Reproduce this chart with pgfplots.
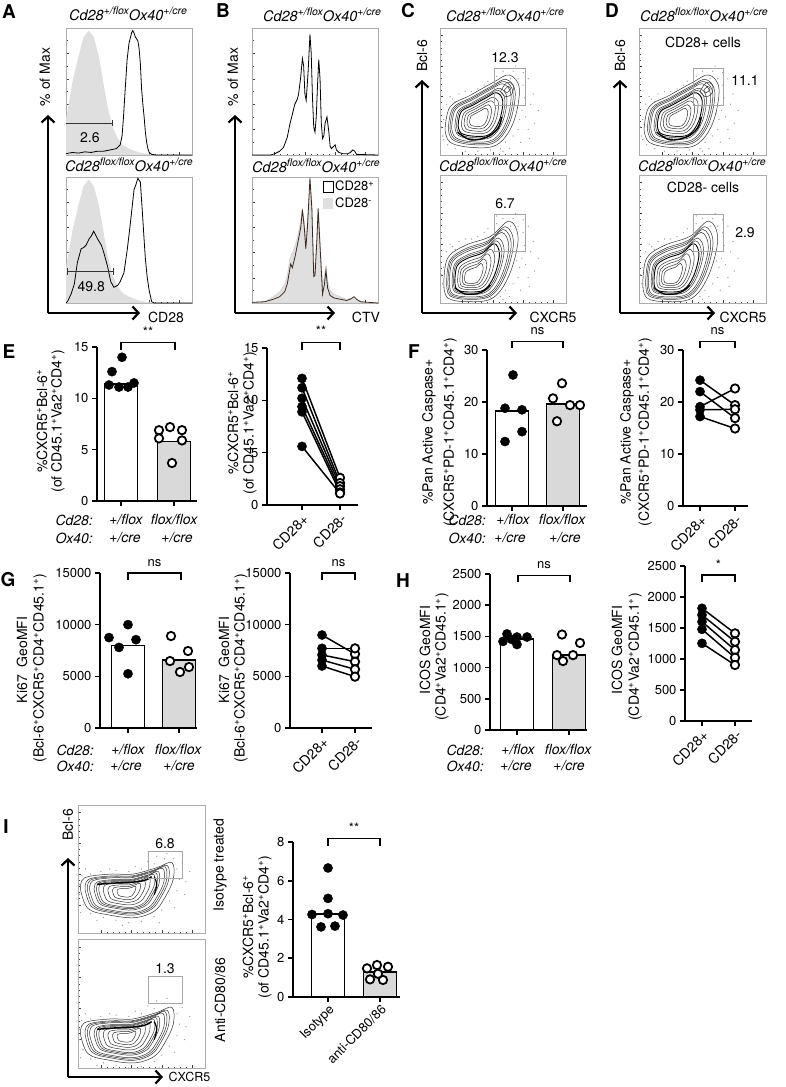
\documentclass[border=0pt]{standalone}
\usepackage{pgfplots}
\pgfplotsset{compat=1.18}
\usepackage{fontspec}
\setmainfont{TeX Gyre Heros}
\usetikzlibrary{arrows.meta}
\newcommand\fsz[1]{\fontsize{#1}{#1}\selectfont}
\newcommand\sps{\textsuperscript{+}}
\newcommand\supit[1]{\raisebox{0.42em}{\fsz{10.5}\itshape #1}}
\newcommand\geno[1]{\textit{Cd28}\supit{#1}\textit{Ox40}\supit{+/cre}}

\tikzset{brk/.style={line width=1.2pt}, sig/.style={font=\fsz{13}}}
\pgfplotsset{
  flow/.style={scale only axis, xmin=0,xmax=100,ymin=0,ymax=100,
    axis line style={gray!65, line width=0.7pt},
    xtick={18,42,66,90}, ytick={22,46,70,94}, minor tick num=4,
    xticklabels={}, yticklabels={}, xtick pos=left, ytick pos=left,
    tick align=inside, major tick length=3pt, minor tick length=1.5pt,
    tick style={gray!50!black, line width=0.5pt}},
  hist/.style={flow, ytick={0,20,40,60,80,100}, minor y tick num=1},
  prism/.style={scale only axis, xmin=0, ymin=0,
    axis x line*=bottom, axis y line*=left,
    axis line style={line width=1.6pt},
    x axis line style={-}, y axis line style={-},
    tick style={line width=1.6pt, black}, major tick length=5pt,
    tick align=outside, clip=false,
    tick label style={font=\fsz{13}},
    /pgf/number format/assume math mode=true,
    /pgf/number format/1000 sep={},
    scaled y ticks=false, xticklabels={}},
  paired/.style={prism, xticklabels={CD28+,CD28-},
    xticklabel style={rotate=45, anchor=north east, font=\fsz{14}, inner sep=2pt}},
  bar/.style={ybar, bar width=33pt, bar shift=0pt, draw=black, line width=1.6pt},
  fpt/.style={only marks, mark=*, mark size=4.6pt, mark options={fill=black, draw=black, line width=0.4pt}},
  opt/.style={only marks, mark=*, mark size=4.2pt, mark options={fill=white, draw=black, line width=1.8pt}},
  pair/.style={black, line width=1.5pt, no marks},
  cnt/.style={smooth, tension=0.6, black!80, line width=0.5pt, no marks},
  dots/.style={only marks, mark=*, mark size=0.35pt, gray!80}
}

\newcommand\dotsA{
\addplot[dots] coordinates {(2,15)(3,28)(5,40)(10,44)(15,48)(20,50)(30,52)(38,58)(45,62)(50,66)(58,66)(62,60)(66,55)(67,45)(65,35)(63,28)(62,20)(58,15)(52,10)(48,5)(40,4)(30,3)(20,3)(12,5)(6,8)(3,12)(68,30)(70,20)(72,40)(60,70)(35,55)(25,50)(12,42)(64,10)(75,25)(55,5)(70,60)(45,68)(78,35)(66,65)(71,13)(58,40)(61,33)(56,60)(1,22)(8,46)(74,48)(50,3)};
}
\newcommand\contTop{
\dotsA
\addplot[cnt] coordinates {(4,20)(8,38)(24,47)(42,57)(55,63)(63,52)(58,25)(45,8)(25,6)(8,10)(4,20)};
\addplot[cnt] coordinates {(6.6,20.8)(10.2,37)(24.6,45.1)(40.8,54.1)(52.5,59.5)(59.7,49.6)(55.2,25.3)(43.5,10)(25.5,8.2)(10.2,11.8)(6.6,20.8)};
\addplot[cnt] coordinates {(7.9,21.2)(11.3,36.5)(24.9,44.2)(40.2,52.7)(51.3,57.8)(58.1,48.4)(53.8,25.4)(42.8,11)(25.7,9.3)(11.3,12.7)(7.9,21.2)};
\addplot[cnt] coordinates {(9.2,21.6)(12.4,36)(25.2,43.2)(39.6,51.2)(50,56)(56.4,47.2)(52.4,25.6)(42,12)(26,10.4)(12.4,13.6)(9.2,21.6)};
\addplot[cnt] coordinates {(11.8,22.4)(14.6,35)(25.8,41.3)(38.4,48.3)(47.5,52.5)(53.1,44.8)(49.6,25.9)(40.5,14)(26.5,12.6)(14.6,15.4)(11.8,22.4)};
\addplot[cnt] coordinates {(13.1,22.8)(15.7,34.5)(26.1,40.4)(37.8,46.9)(46.3,50.8)(51.5,43.6)(48.2,26)(39.8,15)(26.7,13.7)(15.7,16.3)(13.1,22.8)};
\addplot[cnt, line width=0.9pt, black] coordinates {(14.4,23.2)(16.8,34)(26.4,39.4)(37.2,45.4)(45,49)(49.8,42.4)(46.8,26.2)(39,16)(27,14.8)(16.8,17.2)(14.4,23.2)};
\addplot[cnt] coordinates {(17,24)(19,33)(27,37.5)(36,42.5)(42.5,45.5)(46.5,40)(44,26.5)(37.5,18)(27.5,17)(19,19)(17,24)};
\addplot[cnt] coordinates {(19.1,24.6)(20.8,32.2)(27.5,36)(35,40.2)(40.5,42.7)(43.9,38.1)(41.8,26.7)(36.3,19.6)(27.9,18.8)(20.8,20.4)(19.1,24.6)};
\addplot[cnt] coordinates {(21.4,25.4)(22.7,31.3)(28,34.3)(34,37.6)(38.3,39.6)(40.9,35.9)(39.2,27)(35,21.4)(28.3,20.7)(22.7,22.1)(21.4,25.4)};
\addplot[cnt] coordinates {(23.5,26)(24.5,30.5)(28.5,32.8)(33,35.3)(36.3,36.8)(38.3,34)(37,27.3)(33.8,23)(28.8,22.5)(24.5,23.5)(23.5,26)};
\addplot[cnt] coordinates {(48,50)(53,57)(58,55)(57,48)(52,46)(48,50)};
\addplot[cnt] coordinates {(51,51)(54,54)(56,52)(53,49)(51,51)};
\addplot[cnt, line width=1.4pt, black] coordinates {(14,18)(24,12)(37,14)(46,21)(49,30)};
}
\newcommand\contBot{
\dotsA
\addplot[cnt] coordinates {(3,15)(6,35)(20,45)(40,52)(55,64)(62,50)(55,22)(42,4)(22,1)(6,4)(3,15)};
\addplot[cnt] coordinates {(5.2,15.5)(7.9,33.5)(20.5,42.5)(38.5,48.8)(52,59.6)(58.3,47)(52,21.8)(40.3,5.6)(22.3,2.9)(7.9,5.6)(5.2,15.5)};
\addplot[cnt] coordinates {(6.3,15.7)(8.8,32.8)(20.7,41.3)(37.8,47.2)(50.5,57.4)(56.5,45.5)(50.5,21.7)(39.5,6.4)(22.4,3.8)(8.8,6.4)(6.3,15.7)};
\addplot[cnt] coordinates {(7.4,16)(9.8,32)(21,40)(37,45.6)(49,55.2)(54.6,44)(49,21.6)(38.6,7.2)(22.6,4.8)(9.8,7.2)(7.4,16)};
\addplot[cnt] coordinates {(9.6,16.5)(11.7,30.5)(21.5,37.5)(35.5,42.4)(46,50.8)(50.9,41)(46,21.4)(36.9,8.8)(22.9,6.7)(11.7,8.8)(9.6,16.5)};
\addplot[cnt] coordinates {(10.7,16.7)(12.6,29.8)(21.7,36.3)(34.8,40.8)(44.5,48.6)(49.1,39.5)(44.5,21.3)(36.1,9.6)(23,7.6)(12.6,9.6)(10.7,16.7)};
\addplot[cnt, line width=0.9pt, black] coordinates {(11.8,17)(13.6,29)(22,35)(34,39.2)(43,46.4)(47.2,38)(43,21.2)(35.2,10.4)(23.2,8.6)(13.6,10.4)(11.8,17)};
\addplot[cnt] coordinates {(14,17.5)(15.5,27.5)(22.5,32.5)(32.5,36)(40,42)(43.5,35)(40,21)(33.5,12)(23.5,10.5)(15.5,12)(14,17.5)};
\addplot[cnt] coordinates {(15.8,17.9)(17,26.3)(22.9,30.5)(31.3,33.4)(37.6,38.5)(40.5,32.6)(37.6,20.8)(32.1,13.3)(23.7,12)(17,13.3)(15.8,17.9)};
\addplot[cnt] coordinates {(17.7,18.3)(18.7,25)(23.3,28.3)(30,30.6)(34.9,34.5)(37.2,29.9)(34.9,20.7)(30.6,14.7)(24,13.7)(18.7,14.7)(17.7,18.3)};
\addplot[cnt] coordinates {(19.5,18.8)(20.3,23.8)(23.8,26.3)(28.8,28)(32.5,31)(34.3,27.5)(32.5,20.5)(29.3,16)(24.3,15.3)(20.3,16)(19.5,18.8)};
\addplot[cnt, line width=1.2pt, black] coordinates {(12,12)(20,7)(32,8)(40,14)};
}
\newcommand\contI{
\addplot[dots] coordinates {(1,30)(3,45)(10,46)(18,48)(30,49)(40,48)(50,50)(60,54)(68,58)(75,58)(78,50)(80,42)(78,33)(72,25)(66,18)(60,13)(50,9)(40,8)(30,10)(20,12)(10,15)(4,22)(1,38)(85,40)(82,55)(70,62)(62,60)(55,56)(35,6)(15,10)(76,20)(84,30)(45,52)(25,50)(6,50)(88,48)(64,8)(2,16)};
\addplot[cnt] coordinates {(2,34)(5,43)(25,46)(43,46)(62,51)(74,55)(75,42)(68,27)(60,17)(45,12)(25,14)(8,19)(2,34)};
\addplot[cnt] coordinates {(5.6,33.8)(8.3,41.9)(26.3,44.6)(42.5,44.6)(59.6,49.1)(70.4,52.7)(71.3,41)(65,27.5)(57.8,18.5)(44.3,14)(26.3,15.8)(11,20.3)(5.6,33.8)};
\addplot[cnt] coordinates {(7.4,33.7)(9.9,41.4)(26.9,43.9)(42.3,43.9)(58.4,48.2)(68.6,51.6)(69.5,40.5)(63.5,27.7)(56.7,19.2)(44,15)(26.9,16.7)(12.5,20.9)(7.4,33.7)};
\addplot[cnt] coordinates {(9.2,33.6)(11.6,40.8)(27.6,43.2)(42,43.2)(57.2,47.2)(66.8,50.4)(67.6,40)(62,28)(55.6,20)(43.6,16)(27.6,17.6)(14,21.6)(9.2,33.6)};
\addplot[cnt] coordinates {(12.8,33.4)(14.9,39.7)(28.9,41.8)(41.5,41.8)(54.8,45.3)(63.2,48.1)(63.9,39)(59,28.5)(53.4,21.5)(42.9,18)(28.9,19.4)(17,22.9)(12.8,33.4)};
\addplot[cnt] coordinates {(14.6,33.3)(16.5,39.2)(29.5,41.1)(41.3,41.1)(53.6,44.4)(61.4,47)(62.1,38.5)(57.5,28.7)(52.3,22.2)(42.6,19)(29.5,20.3)(18.5,23.5)(14.6,33.3)};
\addplot[cnt] coordinates {(16.4,33.2)(18.2,38.6)(30.2,40.4)(41,40.4)(52.4,43.4)(59.6,45.8)(60.2,38)(56,29)(51.2,23)(42.2,20)(30.2,21.2)(20,24.2)(16.4,33.2)};
\addplot[cnt] coordinates {(20,33)(21.5,37.5)(31.5,39)(40.5,39)(50,41.5)(56,43.5)(56.5,37)(53,29.5)(49,24.5)(41.5,22)(31.5,23)(23,25.5)(20,33)};
\addplot[cnt] coordinates {(23.6,32.8)(24.8,36.4)(32.8,37.6)(40,37.6)(47.6,39.6)(52.4,41.2)(52.8,36)(50,30)(46.8,26)(40.8,24)(32.8,24.8)(26,26.8)(23.6,32.8)};
\addplot[cnt] coordinates {(27.2,32.6)(28.1,35.3)(34.1,36.2)(39.5,36.2)(45.2,37.7)(48.8,38.9)(49.1,35)(47,30.5)(44.6,27.5)(40.1,26)(34.1,26.6)(29,28.1)(27.2,32.6)};
\addplot[cnt] coordinates {(30.8,32.4)(31.4,34.2)(35.4,34.8)(39,34.8)(42.8,35.8)(45.2,36.6)(45.4,34)(44,31)(42.4,29)(39.4,28)(35.4,28.4)(32,29.4)(30.8,32.4)};
\addplot[cnt, line width=1.5pt, black] coordinates {(15,38)(28,39)(40,39.5)(52,41)(58,44)};
\addplot[cnt, line width=1.2pt, black] coordinates {(60,44)(62,38)(60,30)};
}

\begin{document}
\begin{tikzpicture}
\useasboundingbox (0,0) rectangle (786pt,-1087pt);

% ---------- A ----------
\begin{axis}[hist, at={(66pt,-155pt)}, anchor=south west, width=126pt, height=127pt]
\addplot[fill=gray!25, draw=none] coordinates {(0,28)(5,57)(10,78)(14,93)(18,98)(22,93)(26,78)(30,55)(33,38)(37,22)(41,13)(45,8)(50,5)(58,2)(66,0.5)(75,0)} \closedcycle;
\addplot[black, line width=0.8pt] coordinates {(0,1)(5,2)(10,1.5)(15,2.5)(20,2)(25,3)(30,3)(35,4)(40,5)(43,8)(44.5,15)(45.5,28)(47,52)(48.5,75)(50,88)(52,96)(53,98)(54,96)(55,93)(57,90)(58,84)(59,72)(60,52)(61,40)(62,30)(63,18)(64,10)(65,5)(66,2)(68,0.5)(72,0)(100,0)};
\draw[gray!40!black, line width=0.8pt] (axis cs:0,25) -- (axis cs:37,25) (axis cs:37,22.5) -- (axis cs:37,27.5);
\node[font=\fsz{14}] at (axis cs:19,14) {2.6};
\end{axis}
\begin{axis}[hist, at={(66pt,-303pt)}, anchor=south west, width=126pt, height=126pt]
\addplot[fill=gray!25, draw=none] coordinates {(0,28)(5,57)(10,78)(14,93)(18,98)(22,93)(26,78)(30,55)(33,38)(37,22)(41,13)(45,8)(50,5)(58,2)(66,0.5)(75,0)} \closedcycle;
\addplot[black, line width=0.8pt] coordinates {(0,0)(1.3,1.4)(4,7)(6.6,15)(9,32)(12,43)(14,44)(16,46)(18.4,51)(20,53)(22,57)(23.5,54)(25,51)(28,46)(30,40)(33,29)(35.5,17)(38,12.5)(41,14)(43,17)(46,24)(48.7,43)(51,62.5)(54,90)(55.5,94)(57,99)(59,96)(60.5,74)(62,50)(63,35)(64.5,20)(66,10)(68,1)(70,0)(100,0)};
\draw[gray!40!black, line width=0.8pt] (axis cs:1,25) -- (axis cs:38,25) (axis cs:1,22.5) -- (axis cs:1,27.5) (axis cs:38,22.5) -- (axis cs:38,27.5);
\node[font=\fsz{14}] at (axis cs:20,13) {49.8};
\end{axis}

% ---------- B ----------
\begin{axis}[hist, at={(252pt,-155pt)}, anchor=south west, width=126pt, height=127pt]
\addplot[black, line width=0.8pt] coordinates {(0,0)(15,0)(18,1)(22,3)(25,6)(28,14)(30,24)(32,32)(34,40)(36,44)(37,48)(38.5,60)(40,76)(41,70)(42,48)(43,43)(44.5,65)(46,95)(47,80)(48,45)(49,22)(50,18)(51,30)(52,55)(53,75)(54,60)(55,25)(56,13)(57,15)(58,25)(59.5,30)(61,18)(62,7)(63,5)(64,6)(66,8)(67,4)(69,2)(72,1)(76,1)(78,2)(80,4)(81.5,3)(83,0.5)(100,0)};
\end{axis}
\begin{axis}[hist, at={(252pt,-303pt)}, anchor=south west, width=126pt, height=126pt]
\addplot[fill=gray!25, draw=gray!40, line width=0.4pt] coordinates {(0,0)(10,1)(17,5)(22,9)(26,15)(28,22)(30,35)(32,40)(34,45)(36,52)(38,62)(40,75)(41.5,65)(42.7,50)(44,65)(46,97)(47.5,80)(49,30)(50,30)(51.5,55)(52.5,74)(54,50)(56,15)(57.5,22)(58.7,30)(60,18)(62,10)(65,7)(70,5)(75,3)(80,4)(85,2)(90,0)(100,0)} \closedcycle;
\addplot[color={rgb,255:red,60;green,40;blue,30}, line width=0.8pt] coordinates {(0,0.5)(10,1)(17,3)(22,5)(26,9)(28,15)(30.7,31)(32,28)(34,36)(36,46)(38.7,60)(40,74)(41.5,60)(42.7,43)(44,60)(46,99)(47.5,75)(49,21)(50,22)(51.5,50)(52.5,75)(54,45)(56,7)(57.5,15)(58.7,26)(60,12)(62,6)(65,4)(70,3)(75,2)(78,3)(81,5)(83,3)(86,1)(100,0)};
\end{axis}

% ---------- C ----------
\begin{axis}[flow, at={(440pt,-155pt)}, anchor=south west, width=126pt, height=127pt]
\contTop
\draw[gray!70, line width=0.6pt] (axis cs:43,39.5) rectangle (axis cs:67.5,68.5);
\node[font=\fsz{14}] at (axis cs:51.6,77) {12.3};
\end{axis}
\begin{axis}[flow, at={(440pt,-303pt)}, anchor=south west, width=126pt, height=128pt]
\contBot
\draw[gray!70, line width=0.6pt] (axis cs:43,40.6) rectangle (axis cs:67.5,69.5);
\node[font=\fsz{14}] at (axis cs:51.6,78) {6.7};
\end{axis}

% ---------- D ----------
\begin{axis}[flow, at={(639pt,-155pt)}, anchor=south west, width=127pt, height=127pt]
\contTop
\draw[gray!70, line width=0.6pt] (axis cs:42.5,39.5) rectangle (axis cs:66,68.5);
\node[font=\fsz{14}] at (axis cs:83.5,59) {11.1};
\node[font=\fsz{14}] at (axis cs:50.4,89) {CD28+ cells};
\end{axis}
\begin{axis}[flow, at={(639pt,-303pt)}, anchor=south west, width=127pt, height=128pt]
\contBot
\draw[gray!70, line width=0.6pt] (axis cs:42.5,40.6) rectangle (axis cs:66,69.5);
\node[font=\fsz{14}] at (axis cs:83.5,54.7) {2.9};
\node[font=\fsz{14}] at (axis cs:50.4,90.6) {CD28- cells};
\end{axis}

% ---------- E ----------
\begin{axis}[prism, at={(97pt,-501pt)}, anchor=south west, width=100pt, height=154pt, xmax=100, ymax=15, ytick={0,5,10,15}, xtick={24,77}]
\addplot[bar, fill=white] coordinates {(24,11.4)};
\addplot[bar, fill=gray!30] coordinates {(77,5.8)};
\addplot[fpt] coordinates {(25,14.0)(15,12.6)(12,11.3)(22,11.1)(31,11.1)(37,11.5)};
\addplot[opt] coordinates {(62,6.9)(73,7.2)(85,6.9)(62,6.1)(85,5.9)(75,3.7)};
\draw[brk] (axis cs:24,14.7) |- (axis cs:78,15.4) -- (axis cs:78,14.7);
\node[sig] at (axis cs:51,16.5) {**};
\end{axis}
\begin{axis}[paired, at={(267pt,-505pt)}, anchor=south west, width=91pt, height=157pt, xmax=91, ymax=15, ytick={0,5,10,15}, xtick={35,73}]
\addplot[pair] coordinates {(35,12.1)(73,2.6)};
\addplot[pair] coordinates {(35,11.2)(73,2.1)};
\addplot[pair] coordinates {(35,10.2)(73,1.8)};
\addplot[pair] coordinates {(35,9.4)(73,1.5)};
\addplot[pair] coordinates {(35,8.9)(73,1.2)};
\addplot[pair] coordinates {(35,5.6)(73,1.1)};
\addplot[fpt] coordinates {(35,12.1)(35,11.2)(35,10.2)(35,9.4)(35,8.9)(35,5.6)};
\addplot[opt] coordinates {(73,2.6)(73,2.1)(73,1.8)(73,1.5)(73,1.2)(73,1.1)};
\draw[brk] (axis cs:35,14.8) |- (axis cs:73,15.5) -- (axis cs:73,14.8);
\node[sig] at (axis cs:54,16.6) {**};
\end{axis}

% ---------- F ----------
\begin{axis}[prism, at={(487pt,-506pt)}, anchor=south west, width=100pt, height=156pt, xmax=100, ymax=30, ytick={0,10,20,30}, xtick={25,76}]
\addplot[bar, fill=white] coordinates {(25,18.3)};
\addplot[bar, fill=gray!30] coordinates {(76,19.6)};
\addplot[fpt] coordinates {(26,25.2)(18,18.8)(35,18.5)(35,14.3)(18,12.4)};
\addplot[opt] coordinates {(75,23.6)(66,20.7)(83,19.4)(93,19.4)(70,16.3)};
\draw[brk] (axis cs:25,30.4) |- (axis cs:76,31.6) -- (axis cs:76,30.4);
\node[sig] at (axis cs:50.5,33.6) {ns};
\end{axis}
\begin{axis}[paired, at={(683pt,-506pt)}, anchor=south west, width=65pt, height=156pt, xmax=65, ymax=30, ytick={0,10,20,30}, xtick={17,52}]
\addplot[pair] coordinates {(17,24.2)(52,19.4)};
\addplot[pair] coordinates {(17,22.0)(52,16.9)};
\addplot[pair] coordinates {(17,19.1)(52,22.6)};
\addplot[pair] coordinates {(17,18.5)(52,18.6)};
\addplot[pair] coordinates {(17,17.2)(52,14.9)};
\addplot[fpt] coordinates {(17,24.2)(17,22.0)(17,19.1)(17,18.5)(17,17.2)};
\addplot[opt] coordinates {(52,19.4)(52,16.9)(52,22.6)(52,18.6)(52,14.9)};
\draw[brk] (axis cs:17,30.4) |- (axis cs:52,31.6) -- (axis cs:52,30.4);
\node[sig] at (axis cs:34.5,33.6) {ns};
\end{axis}

% ---------- G ----------
\begin{axis}[prism, at={(100pt,-728pt)}, anchor=south west, width=97pt, height=155pt, xmax=97, ymax=15000, ytick={0,5000,10000,15000}, xtick={28,79}]
\addplot[bar, fill=white] coordinates {(28,8000)};
\addplot[bar, fill=gray!30] coordinates {(79,6600)};
\addplot[fpt] coordinates {(28,10000)(9,8750)(36,8550)(19,7800)(28,5250)};
\addplot[opt] coordinates {(71,8900)(88,7450)(70,6480)(89,5900)(80,5420)};
\draw[brk] (axis cs:28,14300) |- (axis cs:81,15000) -- (axis cs:81,14300);
\node[sig] at (axis cs:54.5,16000) {ns};
\end{axis}
\begin{axis}[paired, at={(290pt,-728pt)}, anchor=south west, width=82pt, height=155pt, xmax=82, ymax=15000, ytick={0,5000,10000,15000}, xtick={32,65}]
\addplot[pair] coordinates {(32,9000)(65,7160)};
\addplot[pair] coordinates {(32,7710)(65,7710)};
\addplot[pair] coordinates {(32,7070)(65,6420)};
\addplot[pair] coordinates {(32,6580)(65,5680)};
\addplot[pair] coordinates {(32,6000)(65,4970)};
\addplot[fpt] coordinates {(32,9000)(32,7710)(32,7070)(32,6580)(32,6000)};
\addplot[opt] coordinates {(65,7160)(65,7710)(65,6420)(65,5680)(65,4970)};
\draw[brk] (axis cs:32,14300) |- (axis cs:65,15000) -- (axis cs:65,14300);
\node[sig] at (axis cs:48.5,16000) {ns};
\end{axis}

% ---------- H ----------
\begin{axis}[prism, at={(490pt,-730pt)}, anchor=south west, width=97pt, height=156pt, xmax=97, ymax=2500, ytick={0,500,1000,1500,2000,2500}, xtick={27,79}]
\addplot[bar, fill=white] coordinates {(27,1455)};
\addplot[bar, fill=gray!30] coordinates {(79,1200)};
\addplot[fpt] coordinates {(17,1540)(27,1490)(37,1490)(13,1420)(27,1370)(22,1450)};
\addplot[opt] coordinates {(72,1530)(90,1395)(67,1200)(83,1200)(73,1105)};
\draw[brk] (axis cs:28,2370) |- (axis cs:80,2480) -- (axis cs:80,2370);
\node[sig] at (axis cs:54,2650) {ns};
\end{axis}
\begin{axis}[paired, at={(685pt,-721pt)}, anchor=south west, width=67pt, height=155pt, xmax=67, ymax=2500, ytick={0,500,1000,1500,2000,2500}, xtick={17,50}]
\addplot[pair] coordinates {(17,1818)(50,1414)};
\addplot[pair] coordinates {(17,1710)(50,1279)};
\addplot[pair] coordinates {(17,1602)(50,1145)};
\addplot[pair] coordinates {(17,1479)(50,1021)};
\addplot[pair] coordinates {(17,1253)(50,903)};
\addplot[fpt] coordinates {(17,1818)(17,1710)(17,1602)(17,1479)(17,1253)};
\addplot[opt] coordinates {(50,1414)(50,1279)(50,1145)(50,1021)(50,903)};
\draw[brk] (axis cs:17,2245) |- (axis cs:50,2355) -- (axis cs:50,2245);
\node[sig] at (axis cs:33.5,2520) {*};
\end{axis}

% ---------- I ----------
\begin{axis}[flow, at={(78pt,-933pt)}, anchor=south west, width=127pt, height=128pt]
\contI
\draw[gray!70, line width=0.6pt] (axis cs:55,43) rectangle (axis cs:82,64);
\node[font=\fsz{14}] at (axis cs:68.5,70) {6.8};
\end{axis}
\begin{axis}[flow, at={(78pt,-1068pt)}, anchor=south west, width=127pt, height=129pt, ymin=8, ymax=108, ytick={30,54,78,102}]
\contI
\draw[gray!70, line width=0.6pt] (axis cs:55,58) rectangle (axis cs:82,79);
\node[font=\fsz{14}] at (axis cs:68.5,85) {1.3};
\end{axis}
\begin{axis}[prism, at={(293pt,-997pt)}, anchor=south west, width=107pt, height=155pt, xmax=107, ymax=8, ytick={0,2,4,6,8}, xtick={35,87},
  xticklabels={Isotype,anti-CD80/86}, xticklabel style={rotate=45, anchor=north east, font=\fsz{13}, inner sep=1pt}]
\addplot[bar, fill=white] coordinates {(35,4.28)};
\addplot[bar, fill=gray!30] coordinates {(87,1.3)};
\addplot[fpt] coordinates {(35,6.66)(35,5.09)(19,4.26)(50,4.23)(35,4.3)(28,3.62)(42,3.66)};
\addplot[opt] coordinates {(74,1.48)(84,1.65)(95,1.56)(77,0.91)(90,0.88)(85,1.2)};
\draw[brk] (axis cs:35,7.8) |- (axis cs:87,8.2) -- (axis cs:87,7.8);
\node[sig] at (axis cs:61,8.75) {**};
\end{axis}

% ---------- annotations ----------
\begin{scope}[x=1pt, y=-1pt]
\tikzset{arr/.style={line width=2.2pt, -{Straight Barb[length=6pt,width=13pt,line width=2.2pt]}},
  lab/.style={font=\bfseries\fsz{19}}, tt/.style={font=\fsz{14.5}, inner sep=1pt}, rl/.style={rotate=90, font=\fsz{14}}}
% panel letters
\node[lab] at (9,12) {A};
\node[lab] at (223,11) {B};
\node[lab] at (408,11) {C};
\node[lab] at (612,11) {D};
\node[lab] at (9,352) {E};
\node[lab] at (414,352) {F};
\node[lab] at (8,580) {G};
\node[lab] at (403,581) {H};
\node[lab] at (6,827) {I};
% titles
\node[tt] at (128,14) {\geno{+/flox}};
\node[tt] at (129,165) {\geno{flox/flox}};
\node[tt] at (322,15) {\geno{+/flox}};
\node[tt] at (316,166) {\geno{flox/flox}};
\node[tt] at (505,15) {\geno{+/flox}};
\node[tt] at (503,165) {\geno{flox/flox}};
\node[tt] at (704,15) {\geno{flox/flox}};
\node[tt] at (702,165) {\geno{flox/flox}};
% arrows
\draw[arr] (48,313) -- (48,115);
\draw[arr] (48,313) -- (140,313);
\draw[arr] (235,313) -- (235,115);
\draw[arr] (235,313) -- (335,313);
\draw[arr] (422,313) -- (422,80);
\draw[arr] (422,313) -- (517,313);
\draw[arr] (620,313) -- (620,80);
\draw[arr] (620,313) -- (715,313);
\draw[arr] (68,1077) -- (68,858);
\draw[arr] (68,1077) -- (163,1077);
\node[rl] at (45,77) {\% of Max};
\node[rl] at (233,77) {\% of Max};
\node[rl] at (422,56) {Bcl-6};
\node[rl] at (620,56) {Bcl-6};
\node[rl] at (68,825) {Bcl-6};
\node[font=\fsz{14}] at (166,317) {CD28};
\node[font=\fsz{14}] at (366,317) {CTV};
\node[font=\fsz{14}] at (553,317) {CXCR5};
\node[font=\fsz{14}] at (743,317) {CXCR5};
\node[font=\fsz{12.5}, anchor=west] at (165,1077) {CXCR5};
\node[rl] at (220,865) {Isotype treated};
\node[rl] at (220,1000) {Anti-CD80/86};
% legend B
\draw[line width=1pt] (323,181) rectangle (333,192);
\fill[gray!25] (323,198) rectangle (333,209);
\node[font=\fsz{13}, anchor=west, inner sep=1pt] at (334,186) {CD28\textsuperscript{+}};
\node[font=\fsz{13}, anchor=west, inner sep=1pt] at (334,203) {CD28\textsuperscript{-}};
% y labels
\node[rl] at (42,421) {\%CXCR5\sps Bcl-6\sps};
\node[rl] at (58,421) {(of CD45.1\sps Va2\sps CD4\sps)};
\node[rl] at (233,423) {\%CXCR5\sps Bcl-6\sps};
\node[rl] at (250,423) {(of CD45.1\sps Va2\sps CD4\sps)};
\node[rl] at (429,432) {\%Pan Active Caspase+};
\node[rl] at (450,432) {(CXCR5\sps PD-1\sps CD45.1\sps CD4\sps)};
\node[rl] at (627,432) {\%Pan Active Caspase+};
\node[rl] at (645,432) {(CXCR5\sps PD-1\sps CD45.1\sps CD4\sps)};
\node[rl] at (22,660) {Ki67\ \ GeoMFI};
\node[rl] at (40,668) {(Bcl-6\sps CXCR5\sps CD4\sps CD45.1\sps)};
\node[rl] at (224,660) {Ki67\ \ GeoMFI};
\node[rl] at (241,668) {(Bcl-6\sps CXCR5\sps CD4\sps CD45.1\sps)};
\node[rl] at (425,650) {ICOS GeoMFI};
\node[rl] at (442,657) {(CD4\sps Va2\sps CD45.1\sps)};
\node[rl] at (617,650) {ICOS GeoMFI};
\node[rl] at (635,657) {(CD4\sps Va2\sps CD45.1\sps)};
\node[rl] at (248,927) {\%CXCR5\sps Bcl-6\sps};
\node[rl] at (265,927) {(of CD45.1\sps Va2\sps CD4\sps)};
% category labels
\tikzset{cat/.style={font=\itshape\fsz{14}}}
\node[cat, anchor=west] at (52,520) {Cd28:};
\node[cat, anchor=west] at (52,538) {Ox40:};
\node[cat] at (126,520) {+/flox};
\node[cat] at (125,538) {+/cre};
\node[cat] at (174,520) {flox/flox};
\node[cat] at (177,538) {+/cre};
\node[cat, anchor=west] at (445,520) {Cd28:};
\node[cat, anchor=west] at (445,538) {Ox40:};
\node[cat] at (513,520) {+/flox};
\node[cat] at (510,538) {+/cre};
\node[cat] at (562,520) {flox/flox};
\node[cat] at (565,538) {+/cre};
\node[cat, anchor=west] at (53,750) {Cd28:};
\node[cat, anchor=west] at (53,766) {Ox40:};
\node[cat] at (128,750) {+/flox};
\node[cat] at (126,766) {+/cre};
\node[cat] at (178,750) {flox/flox};
\node[cat] at (179,766) {+/cre};
\node[cat, anchor=west] at (443,750) {Cd28:};
\node[cat, anchor=west] at (443,766) {Ox40:};
\node[cat] at (518,750) {+/flox};
\node[cat] at (516,766) {+/cre};
\node[cat] at (568,750) {flox/flox};
\node[cat] at (569,766) {+/cre};
\end{scope}
\end{tikzpicture}
\end{document}
